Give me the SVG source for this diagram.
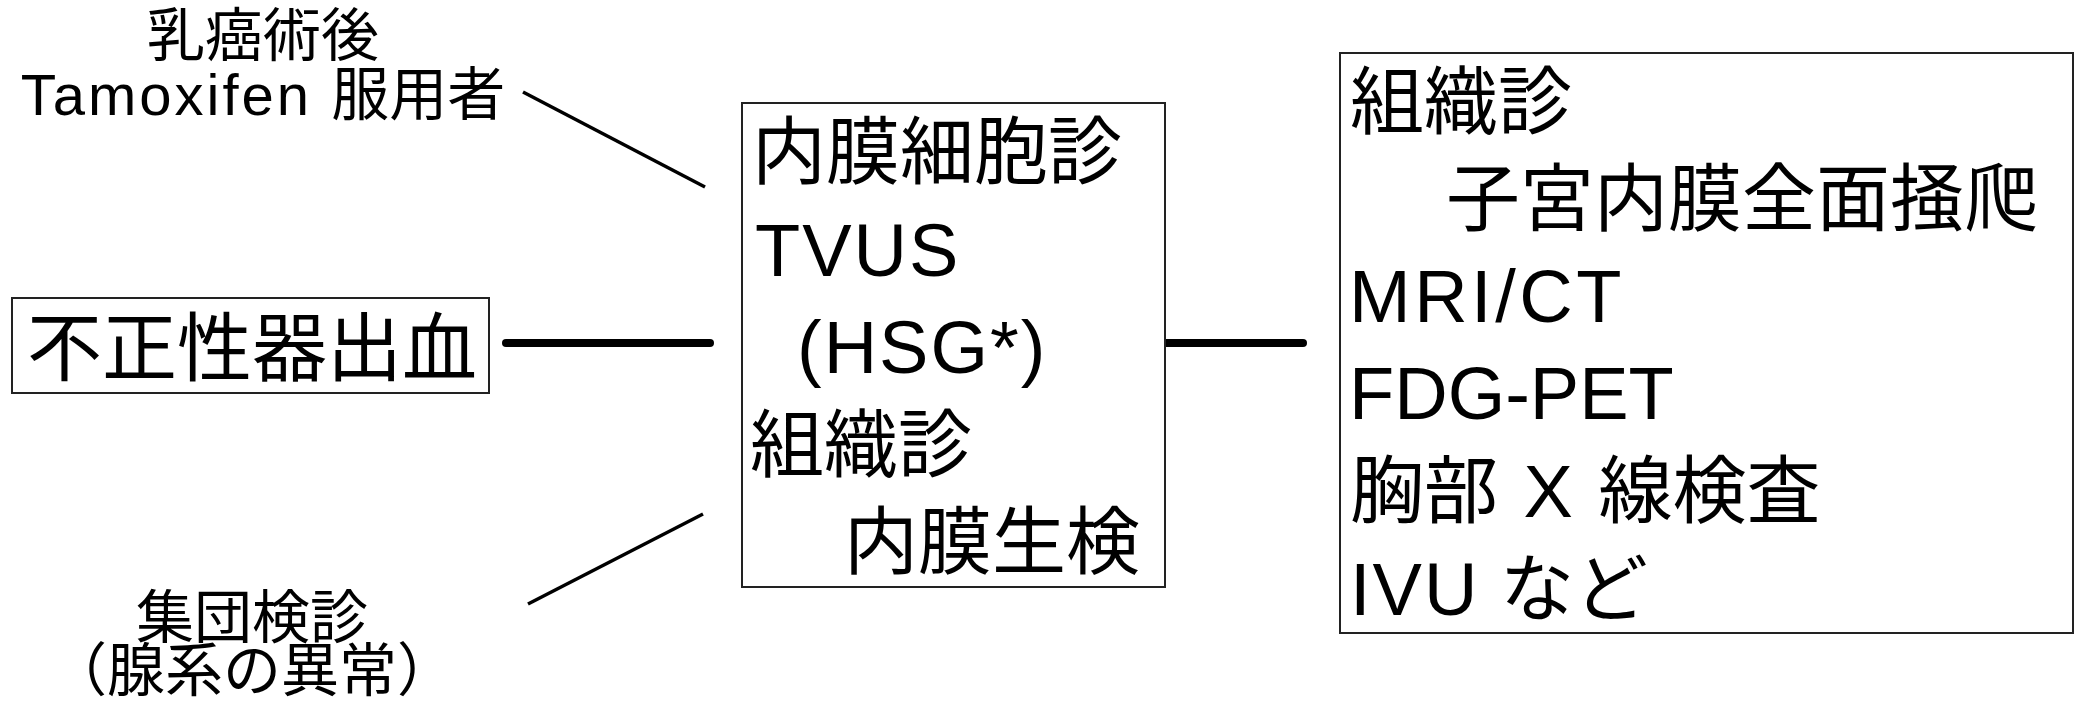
<svg xmlns="http://www.w3.org/2000/svg" width="2087" height="701" viewBox="0 0 2087 701">
<style>
text { font-family: 'Liberation Sans', 'Noto Sans CJK JP', sans-serif; fill: #000; }
.box { fill: #fff; stroke: #222; stroke-width: 2; }
.big { font-size: 74px; }
.side { font-size: 58px; text-anchor: middle; }
.lat { letter-spacing: 2px; }
.thin { stroke: #000; stroke-width: 3.5; fill: none; }
.thick { stroke: #000; stroke-width: 8; fill: none; stroke-linecap: round; }
</style>
<rect width="2087" height="701" fill="#fff"/>
<g id="connectors">
<line class="thin" x1="523" y1="92" x2="705" y2="187"/>
<line class="thin" x1="528" y1="604" x2="703" y2="514"/>
<line class="thick" x1="506" y1="343" x2="710" y2="343"/>
<line class="thick" x1="1153" y1="343" x2="1303" y2="343"/>
</g>
<g id="tamoxifen">
<text class="side" x="263" y="56">乳癌術後</text>
<text class="side" x="263" y="115"><tspan style="letter-spacing:3px">Tamoxifen </tspan>服用者</text>
</g>
<g id="screening">
<text class="side" x="252" y="638">集団検診</text>
<text class="side" x="252" y="691">（腺系の異常）</text>
</g>
<g id="bleeding">
<rect class="box" x="12" y="298" width="477" height="95"/>
<text x="27" y="375" style="font-size:75px">不正性器出血</text>
</g>
<g id="initial-exam">
<rect class="box" x="742" y="103" width="423" height="484"/>
<text class="big" x="752" y="178">内膜細胞診</text>
<text class="big lat" x="755" y="276">TVUS</text>
<text class="big lat" x="797" y="373">(HSG*)</text>
<text class="big" x="750" y="471">組織診</text>
<text class="big" x="844" y="568">内膜生検</text>
</g>
<g id="further-exam">
<rect class="box" x="1340" y="53" width="733" height="580"/>
<text class="big" x="1350" y="128">組織診</text>
<text class="big" x="1446" y="225">子宮内膜全面掻爬</text>
<text class="big" x="1349" y="322" style="letter-spacing:3.5px">MRI/CT</text>
<text class="big" x="1349" y="419">FDG-PET</text>
<text class="big" x="1350" y="517" style="word-spacing:5px">胸部 X 線検査</text>
<text class="big" x="1350" y="615"><tspan class="lat">IVU</tspan> など</text>
</g>
</svg>
